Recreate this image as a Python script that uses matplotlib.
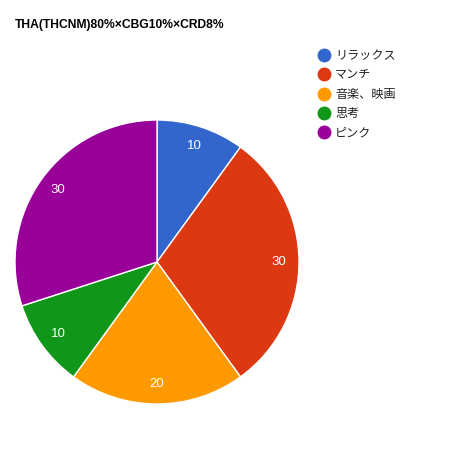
import matplotlib
matplotlib.use("Agg")
import matplotlib.pyplot as plt
from matplotlib.lines import Line2D

title = "THA(THCNM)80%×CBG10%×CRD8%"
categories = ["リラックス", "マンチ", "音楽、映画", "思考", "ピンク"]
values = [10, 30, 20, 10, 30]
colors = ["#3366cc", "#dc3912", "#ff9900", "#109618", "#990099"]

W = H = 474
fig = plt.figure(figsize=(W / 100, H / 100), dpi=100)
fig.patch.set_facecolor("white")

cx, cy, r = 157, 262, 142
ax = fig.add_axes([(cx - r) / W, (H - cy - r) / H, 2 * r / W, 2 * r / H])
wedges, texts = ax.pie(values, colors=colors, startangle=90, counterclock=False,
                       radius=1.0, labels=[str(v) for v in values], labeldistance=0.86,
                       wedgeprops=dict(edgecolor="white", linewidth=1),
                       textprops=dict(color="white", fontsize=9.5, family=["Liberation Sans", "DejaVu Sans"]))
for t in texts:
    t.set_ha("center"); t.set_va("center")
ax.set_xlim(-1, 1); ax.set_ylim(-1, 1)
ax.set_aspect("equal")

fig.text(15 / W, 1 - 25 / H, title, fontsize=8.7, fontweight="bold",
         family=["Liberation Sans", "DejaVu Sans"], va="center", ha="left")

handles = [Line2D([0], [0], marker="o", color="none", markerfacecolor=c, markeredgecolor=c,
                  markersize=9) for c in colors]
leg = fig.legend(handles, categories, loc="upper left", bbox_to_anchor=(318 / W, 1 - 49 / H),
                 frameon=False, prop=dict(family=["Noto Sans CJK JP", "DejaVu Sans"], size=8.7),
                 handlelength=1.0, handletextpad=0.42, labelspacing=0.53, borderpad=0, borderaxespad=0)
for t in leg.get_texts():
    t.set_color("#222222")

fig.savefig("out.png", dpi=100, facecolor="white")
